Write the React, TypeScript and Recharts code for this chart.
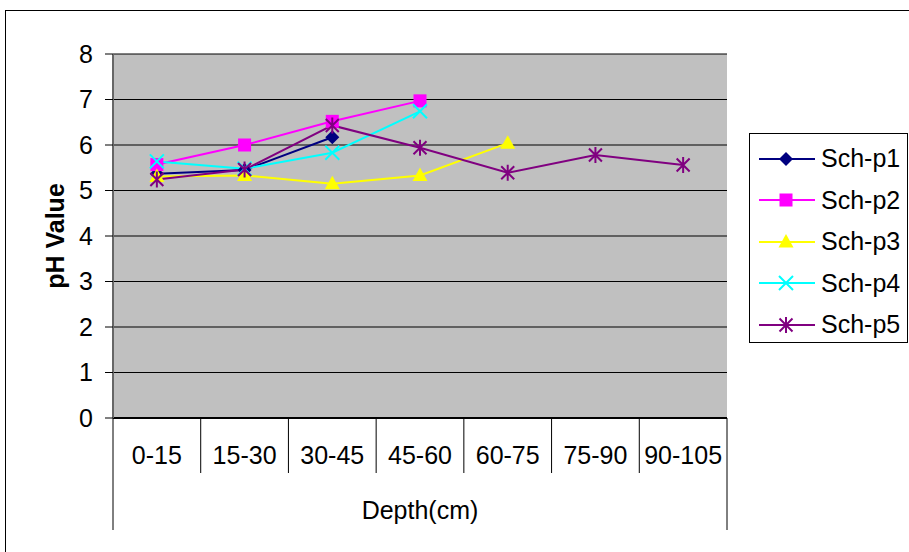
import React from 'react';
import { LineChart, Line, XAxis, YAxis, CartesianGrid } from 'recharts';

const depthCats = ['0-15', '15-30', '30-45', '45-60', '60-75', '75-90', '90-105'];
const schP1 = [5.37, 5.45, 6.17, null, null, null, null];
const schP2 = [5.57, 6.0, 6.52, 6.97, null, null, null];
const schP3 = [5.31, 5.33, 5.15, 5.33, 6.04, null, null];
const schP4 = [5.64, 5.48, 5.83, 6.74, null, null, null];
const schP5 = [5.24, 5.46, 6.43, 5.94, 5.39, 5.78, 5.56];
const yTicks = [0, 1, 2, 3, 4, 5, 6, 7, 8];

const FONT = '"Liberation Sans", Arial, sans-serif';

const SERIES = [
  { key: 'p1', name: 'Sch-p1', color: '#000080', shape: 'diamond' },
  { key: 'p2', name: 'Sch-p2', color: '#FF00FF', shape: 'square' },
  { key: 'p3', name: 'Sch-p3', color: '#FFFF00', shape: 'triangle' },
  { key: 'p4', name: 'Sch-p4', color: '#00FFFF', shape: 'cross' },
  { key: 'p5', name: 'Sch-p5', color: '#800080', shape: 'star' },
];

const data = depthCats.map((depth, i) => ({
  depth,
  p1: schP1[i],
  p2: schP2[i],
  p3: schP3[i],
  p4: schP4[i],
  p5: schP5[i],
}));

// excel-ish markers
const Marker = ({ cx, cy, shape, color }: { cx: number; cy: number; shape: string; color: string }) => {
  switch (shape) {
    case 'diamond':
      return <path d={`M${cx},${cy - 7}L${cx + 7},${cy}L${cx},${cy + 7}L${cx - 7},${cy}Z`} fill={color} />;
    case 'square':
      return <rect x={cx - 6.5} y={cy - 6.5} width={13} height={13} fill={color} />;
    case 'triangle':
      return <path d={`M${cx},${cy - 8}L${cx + 7.5},${cy + 5.5}L${cx - 7.5},${cy + 5.5}Z`} fill={color} />;
    case 'cross':
      return (
        <path d={`M${cx - 7},${cy - 7}L${cx + 7},${cy + 7}M${cx + 7},${cy - 7}L${cx - 7},${cy + 7}`} stroke={color} strokeWidth={2} />
      );
    default:
      return (
        <path
          d={`M${cx - 6.5},${cy - 6.5}L${cx + 6.5},${cy + 6.5}M${cx + 6.5},${cy - 6.5}L${cx - 6.5},${cy + 6.5}M${cx},${cy - 8}L${cx},${cy + 8}`}
          stroke={color}
          strokeWidth={2}
        />
      );
  }
};

const XTick = (props: any) => {
  const { x, y, payload, index } = props;
  const half = payload && payload.offset ? payload.offset : 43.85;
  const last = index === depthCats.length - 1;
  return (
    <g>
      <line x1={x - half} y1={y} x2={x - half} y2={index === 0 ? y + 112 : y + 55} stroke="#000" />
      {last && <line x1={x + half} y1={y} x2={x + half} y2={y + 112} stroke="#000" />}
      <text x={x} y={y + 37} textAnchor="middle" dominantBaseline="central" fontFamily={FONT} fontSize={25} fill="#000">
        {payload.value}
      </text>
    </g>
  );
};

const LegendBox = () => (
  <div
    style={{
      position: 'absolute',
      left: 749,
      top: 133,
      border: '1px solid #000',
      boxSizing: 'border-box',
      width: 159,
      height: 210,
      paddingTop: 4,
      background: '#fff',
      fontFamily: FONT,
      fontSize: 25,
    }}
  >
    {SERIES.map((s) => (
      <div key={s.key} style={{ height: 41.5, display: 'flex', alignItems: 'center' }}>
        <svg width={56} height={20} style={{ marginLeft: 9, marginRight: 6 }}>
          <line x1={0} y1={10} x2={56} y2={10} stroke={s.color} strokeWidth={2} />
          <Marker cx={27} cy={10} shape={s.shape} color={s.color} />
        </svg>
        <span>{s.name}</span>
      </div>
    ))}
  </div>
);

export default function App() {
  return (
    <div style={{ position: 'absolute', left: 0, top: 0, width: 909, height: 552, overflow: 'hidden', background: '#fff' }}>
      <div style={{ position: 'absolute', left: 5, top: 10, width: 960, height: 600, border: '1px solid #000' }} />
      <div style={{ position: 'absolute', left: 0, top: 0 }}>
        <LineChart width={909} height={552} data={data} margin={{ top: 54, right: 182, left: 13, bottom: 24 }}>
          <CartesianGrid vertical={false} stroke="#000" fill="#C0C0C0" fillOpacity={1} />
          <XAxis
            dataKey="depth"
            scale="band"
            height={110}
            axisLine={{ stroke: '#000', strokeWidth: 2 }}
            tickLine={false}
            tickSize={0}
            tickMargin={0}
            interval={0}
            tick={XTick}
            label={{
              content: (p: any) => (
                <text
                  x={p.viewBox.x + p.viewBox.width / 2}
                  y={p.viewBox.y + 92}
                  textAnchor="middle"
                  dominantBaseline="central"
                  fontFamily={FONT}
                  fontSize={25}
                  fill="#000"
                >
                  Depth(cm)
                </text>
              ),
            }}
          />
          <YAxis
            width={100}
            domain={[0, 8]}
            ticks={yTicks}
            interval={0}
            axisLine={{ stroke: '#666', strokeWidth: 2 }}
            tickLine={{ stroke: '#000' }}
            tickSize={8}
            tickMargin={12}
            tick={{ fontFamily: FONT, fontSize: 25, fill: '#000' }}
            label={{
              content: (p: any) => {
                const cx = p.viewBox.x + 42;
                const cy = p.viewBox.y + p.viewBox.height / 2;
                return (
                  <text
                    x={cx}
                    y={cy}
                    transform={`rotate(-90 ${cx} ${cy})`}
                    textAnchor="middle"
                    dominantBaseline="central"
                    fontFamily={FONT}
                    fontSize={25}
                    fontWeight="bold"
                    fill="#000"
                  >
                    pH Value
                  </text>
                );
              },
            }}
          />
          <YAxis
            yAxisId="right"
            orientation="right"
            width={0}
            domain={[0, 8]}
            tick={false}
            tickLine={false}
            axisLine={{ stroke: '#808080', strokeWidth: 2 }}
          />
          {SERIES.map((s) => (
            <Line
              key={s.key}
              type="linear"
              dataKey={s.key}
              name={s.name}
              stroke={s.color}
              strokeWidth={2}
              isAnimationActive={false}
              activeDot={false}
              dot={(p: any) =>
                p.cy == null || p.value == null ? (
                  <g key={`${s.key}-${p.index}`} />
                ) : (
                  <g key={`${s.key}-${p.index}`}>
                    <Marker cx={p.cx} cy={p.cy} shape={s.shape} color={s.color} />
                  </g>
                )
              }
            />
          ))}
        </LineChart>
      </div>
      <LegendBox />
    </div>
  );
}
